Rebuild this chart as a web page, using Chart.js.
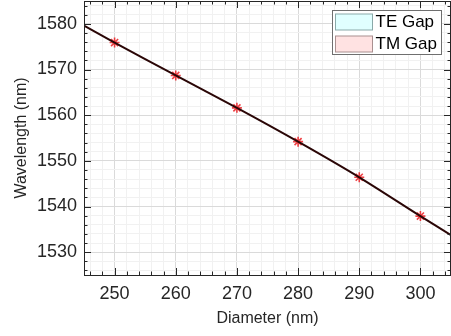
<!DOCTYPE html>
<html>
<head>
<meta charset="utf-8">
<script src="https://cdn.jsdelivr.net/npm/chart.js@4/dist/chart.umd.min.js"></script>
<style>
  html, body { margin: 0; padding: 0; background: #fff; }
  #wrap { width: 451px; height: 336px; }
</style>
</head>
<body>
<div id="wrap"><canvas id="myChart"></canvas></div>
<script>
// measured points (diameter nm -> wavelength nm)
var diameters = [250, 260, 270, 280, 290, 300];
var wavelengths = [1575.9, 1568.7, 1561.6, 1554.2, 1546.4, 1537.9];

// fitted curve through the points
var fitX = [245, 250, 260, 270, 280, 290, 300, 305];
var fitY = [1579.6, 1575.9, 1568.7, 1561.6, 1554.2, 1546.4, 1537.9, 1533.7];

// legend entries (gap bands, nothing visible in this range)
var gapLabels = ['TE Gap', 'TM Gap'];
var gapFill = ['#e0ffff', '#ffe2e2'];
var gapEdge = ['#8aa9a9', '#a99090'];

// axes
var xTickLabels = [250, 260, 270, 280, 290, 300];
var yTickLabels = [1530, 1540, 1550, 1560, 1570, 1580];
var xRange = [245, 305];
var yRange = [1525, 1585];
var minorStep = 2;

var axisColor = '#262626';
var font = "'Liberation Sans', Arial, Helvetica, sans-serif";

function minorTicks(lo, hi) {
    var out = [];
    var v = Math.ceil(lo / minorStep) * minorStep;
    for (; v <= hi; v += minorStep) out.push({ value: v });
    return out;
}

function gridColor(c) {
    var v = c.tick ? c.tick.value : 0;
    return v % 10 === 0 ? '#dadada' : '#f1f1f1';
}

// MATLAB style box with inward ticks on all sides
var boxTicks = {
    id: 'boxTicks',
    afterDatasetsDraw: function (chart) {
        var c = chart.ctx, a = chart.chartArea;
        var xs = chart.scales.x, ys = chart.scales.y;
        c.save();
        c.strokeStyle = axisColor;
        c.lineWidth = 1;
        c.beginPath();
        xs.ticks.forEach(function (t) {
            var p = Math.round(xs.getPixelForValue(t.value)) + 0.5;
            var len = t.value % 10 === 0 ? 7 : 3.5;
            c.moveTo(p, a.bottom); c.lineTo(p, a.bottom - len);
            c.moveTo(p, a.top); c.lineTo(p, a.top + len);
        });
        ys.ticks.forEach(function (t) {
            var p = Math.round(ys.getPixelForValue(t.value)) + 0.5;
            var len = t.value % 10 === 0 ? 7 : 3.5;
            c.moveTo(a.left, p); c.lineTo(a.left + len, p);
            c.moveTo(a.right, p); c.lineTo(a.right - len, p);
        });
        c.stroke();
        c.strokeRect(Math.round(a.left) + 0.5, Math.round(a.top) + 0.5,
            Math.round(a.right - a.left) - 1, Math.round(a.bottom - a.top));
        c.restore();
    }
};

// boxed legend in the upper right corner
var boxLegend = {
    id: 'boxLegend',
    afterDraw: function (chart) {
        var c = chart.ctx;
        var items = chart.data.datasets.filter(function (d) { return d.inLegend; });
        var x0 = 332.5, y0 = 10.5, w = 109, h = 44;
        c.save();
        c.fillStyle = '#fff';
        c.fillRect(x0, y0, w, h);
        c.strokeStyle = '#6f6f6f';
        c.lineWidth = 1;
        c.strokeRect(x0, y0, w, h);
        c.font = '17px ' + font;
        c.textBaseline = 'middle';
        items.forEach(function (d, i) {
            var yy = y0 + 3.5 + i * 22;
            c.fillStyle = d.backgroundColor;
            c.fillRect(x0 + 3, yy, 37, 16);
            c.strokeStyle = d.borderColor;
            c.strokeRect(x0 + 3, yy, 37, 16);
            c.fillStyle = '#000';
            c.fillText(d.label, x0 + 43, yy + 8.5);
        });
        c.restore();
    }
};

var datasets = [];
gapLabels.forEach(function (lab, i) {
    datasets.push({
        label: lab,
        data: [],
        inLegend: true,
        backgroundColor: gapFill[i],
        borderColor: gapEdge[i],
        showLine: false,
        pointRadius: 0
    });
});
datasets.push({
    label: 'fit',
    data: fitX.map(function (x, i) { return { x: x, y: fitY[i] }; }),
    showLine: true,
    borderColor: '#2a0606',
    borderWidth: 2,
    pointRadius: 0,
    tension: 0.3,
    order: 1
});
datasets.push({
    label: 'points',
    data: diameters.map(function (x, i) { return { x: x, y: wavelengths[i] }; }),
    showLine: false,
    pointStyle: 'star',
    pointRadius: 5,
    pointBorderWidth: 1.6,
    pointBorderColor: 'rgba(235, 30, 35, 0.85)',
    pointBackgroundColor: 'rgba(235, 30, 35, 0.85)',
    order: 2
});

var ctx = document.getElementById('myChart');
var myChart = new Chart(ctx, {
    type: 'scatter',
    data: { datasets: datasets },
    plugins: [boxTicks, boxLegend],
    options: {
        responsive: true,
        maintainAspectRatio: false,
        animation: false,
        layout: { autoPadding: false, padding: { top: 1, right: 0, left: 0, bottom: 0 } },
        plugins: {
            legend: { display: false },
            tooltip: { enabled: false }
        },
        scales: {
            x: {
                type: 'linear',
                min: xRange[0],
                max: xRange[1],
                afterBuildTicks: function (s) { s.ticks = minorTicks(xRange[0], xRange[1]); },
                afterFit: function (s) {
                    s.height = 61;
                    s.paddingLeft = 0; s.paddingRight = 0;
                },
                grid: { color: gridColor, drawTicks: false },
                border: { display: false },
                ticks: {
                    autoSkip: false,
                    maxRotation: 0,
                    padding: 8,
                    color: axisColor,
                    font: { family: font, size: 18 },
                    callback: function (v) { return xTickLabels.indexOf(v) >= 0 ? String(v) : ''; }
                },
                title: {
                    display: true,
                    text: 'Diameter (nm)',
                    color: axisColor,
                    font: { family: font, size: 16 },
                    padding: { top: 0, bottom: 8 }
                }
            },
            y: {
                type: 'linear',
                min: yRange[0],
                max: yRange[1],
                afterBuildTicks: function (s) { s.ticks = minorTicks(yRange[0], yRange[1]); },
                afterFit: function (s) {
                    s.width = 84;
                    s.paddingTop = 0; s.paddingBottom = 0;
                },
                grid: { color: gridColor, drawTicks: false },
                border: { display: false },
                ticks: {
                    autoSkip: false,
                    padding: 7,
                    color: axisColor,
                    font: { family: font, size: 18 },
                    callback: function (v) { return yTickLabels.indexOf(v) >= 0 ? String(v) : ''; }
                },
                title: {
                    display: true,
                    text: 'Wavelength (nm)',
                    color: axisColor,
                    font: { family: font, size: 16 },
                    padding: { top: 12, bottom: 0 }
                }
            }
        }
    }
});
</script>
</body>
</html>
